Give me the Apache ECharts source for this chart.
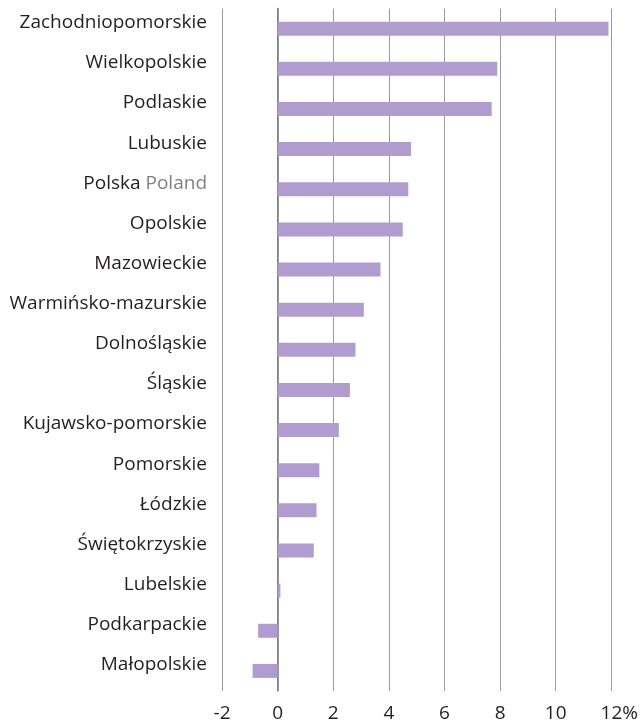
<!DOCTYPE html>
<html>
<head>
<meta charset="utf-8">
<script src="https://cdn.jsdelivr.net/npm/echarts@6/dist/echarts.min.js"></script>
<style>
html, body { margin: 0; padding: 0; background: #fff; }
#chart { width: 641px; height: 723px; }
</style>
</head>
<body>
<div id="chart"></div>
<script>
// regions, top to bottom
let regions = ['Zachodniopomorskie', 'Wielkopolskie', 'Podlaskie', 'Lubuskie', 'Polska', 'Opolskie',
    'Mazowieckie', 'Warmińsko-mazurskie', 'Dolnośląskie', 'Śląskie', 'Kujawsko-pomorskie',
    'Pomorskie', 'Łódzkie', 'Świętokrzyskie', 'Lubelskie', 'Podkarpackie', 'Małopolskie'];
let values = [11.9, 7.9, 7.7, 4.8, 4.7, 4.5, 3.7, 3.1, 2.8, 2.6, 2.2, 1.5, 1.4, 1.3, 0.1, -0.7, -0.9];
let xTicks = [-2, 0, 2, 4, 6, 8, 10, 12];

let chart = echarts.init(document.getElementById('chart'));
let option = {
    animation: false,
    grid: { left: 222, right: 29, top: 8.6, bottom: 32, containLabel: false },
    xAxis: {
        type: 'value',
        min: xTicks[0],
        max: xTicks[xTicks.length - 1],
        interval: 2,
        axisLine: { show: false },
        axisTick: { show: false },
        splitLine: { show: true, lineStyle: { color: '#9a9a9a', width: 1 } },
        axisLabel: {
            margin: 13,
            fontFamily: 'Open Sans',
            fontSize: 19,
            color: '#231f20',
            // "%" hangs to the right of the last tick
            formatter: function (v) { return v === 12 ? '{pc|12%}' : String(v); },
            rich: {
                pc: { fontFamily: 'Open Sans', fontSize: 19, color: '#231f20', padding: [0, 0, 0, 16] }
            }
        }
    },
    yAxis: {
        type: 'category',
        inverse: true,
        data: regions,
        axisLine: { show: true, onZero: true, lineStyle: { color: '#777', width: 1.5 } },
        axisTick: { show: false },
        splitLine: { show: false },
        axisLabel: {
            margin: 15,
            fontFamily: 'Open Sans',
            fontSize: 19,
            color: '#231f20',
            padding: [0, 0, 12, 0],
            formatter: function (v) { return v === 'Polska' ? 'Polska {en|Poland}' : v; },
            rich: {
                en: { fontFamily: 'Open Sans', fontSize: 19, color: '#808080' }
            }
        }
    },
    series: [{
        type: 'bar',
        data: values,
        barWidth: 14,
        itemStyle: { color: '#b09ccf' }
    }]
};
chart.setOption(option);
</script>
</body>
</html>
